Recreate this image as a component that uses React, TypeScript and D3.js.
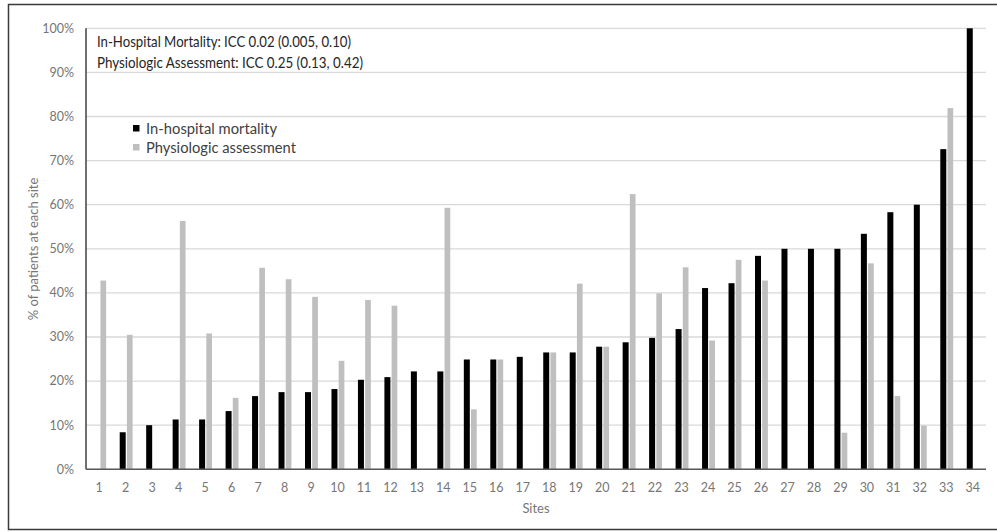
import React from "react";
import * as d3 from "d3";

const sites = Array.from({ length: 34 }, (_, i) => String(i + 1));
const mortality: (number | null)[] = [
  null, 8.4, 10.0, 11.3, 11.3, 13.2, 16.6, 17.5, 17.5, 18.2, 20.3, 20.9, 22.2, 22.2, 24.9, 24.9, 25.5,
  26.5, 26.5, 27.8, 28.8, 29.8, 31.8, 41.1, 42.2, 48.4, 50, 50, 50, 53.4, 58.3, 60, 72.6, 100,
];
const physio: (number | null)[] = [
  42.8, 30.5, null, 56.3, 30.8, 16.2, 45.7, 43.1, 39.1, 24.6, 38.4, 37.1, null, 59.3, 13.6, 24.9, null,
  26.5, 42.1, 27.8, 62.4, 39.9, 45.8, 29.2, 47.5, 42.8, null, null, 8.3, 46.7, 16.6, 9.9, 81.9, null,
];
const yTicks = [0, 10, 20, 30, 40, 50, 60, 70, 80, 90, 100];
const seriesNames = ["In-hospital mortality", "Physiologic assessment"];
const annotations = [
  "In-Hospital Mortality: ICC 0.02 (0.005, 0.10)",
  "Physiologic Assessment: ICC 0.25 (0.13, 0.42)",
];

const FONT = "Lato, 'Open Sans', sans-serif";

export default function App() {
  const W = 997;
  const H = 532;
  const left = 86;
  const right = 986;
  const top = 28.3;
  const bottom = 469.3;
  const x = d3.scaleBand<string>().domain(sites).range([left, right]);
  const y = d3.scaleLinear().domain([0, 100]).range([bottom, top]);
  const bw = 6;
  const black = "#000000";
  const gray = "#bfbfbf";

  return (
    <svg
      width={W}
      height={H}
      style={{ position: "absolute", left: 0, top: 0, display: "block", background: "#fff" }}
    >
      <rect x={8.5} y={4.5} width={1000} height={525} fill="#fff" stroke="#3a3a3a" strokeWidth={1.5} />
      {yTicks.map((t) => (
        <line key={"g" + t} x1={left} x2={right} y1={y(t)} y2={y(t)} stroke="#d9d9d9" strokeWidth={1.3} />
      ))}
      {yTicks.map((t) => (
        <text
          key={"yl" + t}
          x={74}
          y={y(t)}
          dy="0.35em"
          textAnchor="end"
          fontFamily={FONT}
          fontSize={12.5}
          fill="#767676"
        >
          {t + "%"}
        </text>
      ))}
      {sites.map((s, i) => {
        const c = (x(s) as number) + x.bandwidth() / 2;
        const m = mortality[i];
        const p = physio[i];
        return (
          <g key={"b" + s}>
            {m != null && (
              <rect x={c - bw} y={y(m)} width={bw} height={bottom - y(m)} fill={black} />
            )}
            {p != null && (
              <rect x={c + 1.2} y={y(p)} width={bw - 0.3} height={bottom - y(p)} fill={gray} />
            )}
          </g>
        );
      })}
      <line x1={left} x2={left} y1={top} y2={bottom} stroke="#404040" strokeWidth={1.5} />
      <line x1={left} x2={right} y1={bottom} y2={bottom} stroke="#595959" strokeWidth={1.5} />
      {sites.map((s) => (
        <text
          key={"xl" + s}
          x={(x(s) as number) + x.bandwidth() / 2}
          y={488}
          dy="0.35em"
          textAnchor="middle"
          fontFamily={FONT}
          fontSize={12.5}
          fill="#767676"
        >
          {s}
        </text>
      ))}
      <text x={536} y={508} dy="0.35em" textAnchor="middle" fontFamily={FONT} fontSize={13} fill="#767676">
        Sites
      </text>
      <text
        transform="translate(33,249) rotate(-90)"
        textAnchor="middle"
        dy="0.35em"
        fontFamily={FONT}
        fontSize={13}
        fill="#767676"
      >
        % of patients at each site
      </text>
      {annotations.map((a, i) => (
        <text
          key={"a" + i}
          x={97}
          y={42 + i * 20.5}
          dy="0.35em"
          fontFamily={FONT}
          fontSize={15}
          fill="#262626"
          textLength={i === 0 ? 254 : 266}
          lengthAdjust="spacingAndGlyphs"
        >
          {a}
        </text>
      ))}
      {seriesNames.map((n, i) => (
        <g key={"lg" + i}>
          <rect x={133} y={125 + i * 19} width={6.5} height={6.5} fill={i === 0 ? black : gray} />
          <text
            x={146}
            y={128.5 + i * 19}
            dy="0.35em"
            fontFamily={FONT}
            fontSize={14.5}
            fill="#404040"
            textLength={i === 0 ? 131 : 150}
            lengthAdjust="spacingAndGlyphs"
          >
            {n}
          </text>
        </g>
      ))}
    </svg>
  );
}
